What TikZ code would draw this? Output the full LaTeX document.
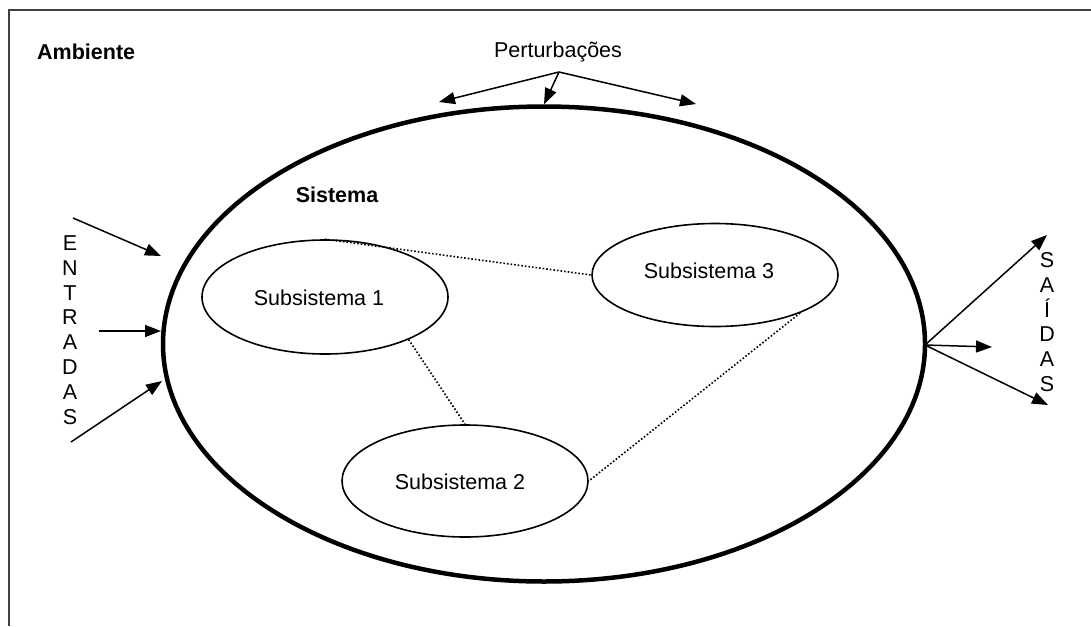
\documentclass[tikz,border=0pt]{standalone}
\usepackage{fontspec}
\setmainfont{Liberation Sans}
\usetikzlibrary{shapes.geometric,arrows.meta}
\begin{document}
\begin{tikzpicture}[x=1pt,y=-1pt,
  every node/.style={font=\fontsize{21.5}{24}\selectfont, inner sep=0pt},
  bold/.style={font=\fontsize{21.5}{24}\selectfont\bfseries},
  sub/.style={draw, ellipse, line width=1.6pt, inner sep=0pt},
  tip/.style={-{Triangle[length=16pt,width=12pt]}, line width=1.5pt},
  link/.style={dotted, line width=1.6pt},
  letters/.style={align=center, font=\fontsize{21.5}{24.8}\selectfont}
]
\useasboundingbox (0,0) rectangle (1091,626);
\fill[white] (0,0) rectangle (1091,626);
\draw[line width=2.2pt, black!75] (9,626) -- (9,10) -- (1091,10);

\node[bold, anchor=west] (amb) at (37,52) {Ambiente};
\node (pert) at (558,52) {Perturbações};
\coordinate (apex) at (559,72);
\coordinate (pl) at (439,102);
\coordinate (pr) at (696,104);

\node[draw, ellipse, line width=4.5pt, minimum width=762pt, minimum height=475pt] (sys) at (544,344) {};
\node[bold] (sist) at (337,195) {Sistema};

\node[sub, minimum width=246pt, minimum height=114pt] (e1) at (325,297) {};
\node[sub, minimum width=246pt, minimum height=103pt] (e3) at (715,275) {};
\node[sub, minimum width=246pt, minimum height=112pt] (e2) at (465,481) {};
\node (t1) at (319,298) {Subsistema 1};
\node (t3) at (709,271) {Subsistema 3};
\node (t2) at (460,482) {Subsistema 2};

\draw[link] (e1.north) -- (e3.west);
\draw[link] (e1.-27) -- (e2.north);
\draw[link] (e3.-24) -- (e2.east);

\draw[tip] (apex) -- (pl);
\draw[tip] (apex) -- (sys.north);
\draw[tip] (apex) -- (pr);

% Entradas
\coordinate (ia) at (73,218);
\coordinate (ib) at (99,331);
\coordinate (ic) at (71,442);
\coordinate (ja) at (161,256);
\coordinate (jb) at (161,331);
\coordinate (jc) at (162,381);
\draw[tip] (ia) -- (ja);
\draw[tip] (ib) -- (jb);
\draw[tip] (ic) -- (jc);
\node[letters] (ent) at (70,330) {E\\N\\T\\R\\A\\D\\A\\S};

% Saidas
\coordinate (so) at (925,345);
\coordinate (sa) at (1047,235);
\coordinate (sb) at (992,347);
\coordinate (sc) at (1048,405);
\draw[tip] (so) -- (sa);
\draw[tip] (so) -- (sb);
\draw[tip] (so) -- (sc);
\node[letters] (sai) at (1047,322) {S\\A\\Í\\D\\A\\S};
\end{tikzpicture}
\end{document}
